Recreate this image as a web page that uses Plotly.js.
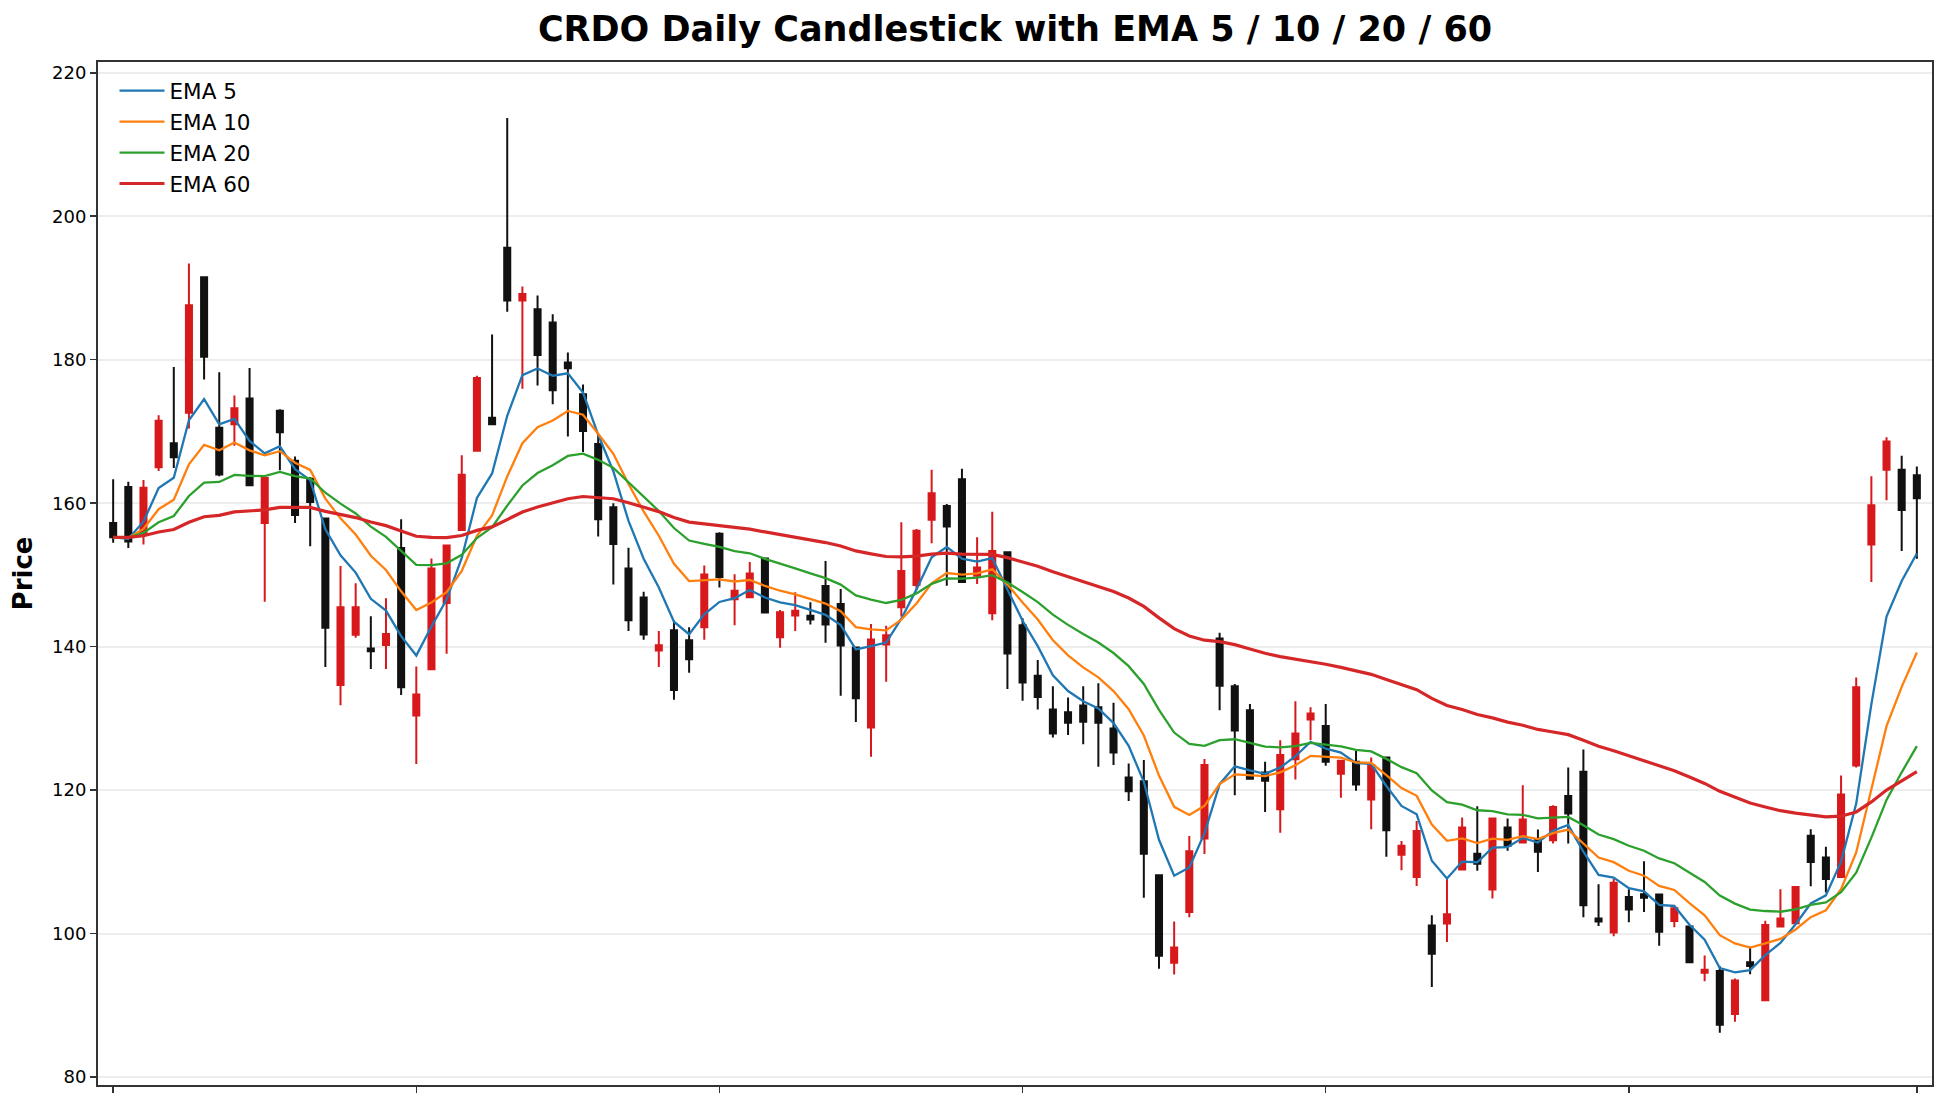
<!DOCTYPE html>
<html>
<head>
<meta charset="utf-8">
<script src="https://cdn.plot.ly/plotly-3.0.1.min.js"></script>
<style>
html,body{margin:0;padding:0;background:#fff;}
#chart{width:1945px;height:1106px;}
</style>
</head>
<body>
<div id="chart"></div>
<script>
// Daily bars, index 0..119 (x tick labels are blank in the reference)
const dayIndex = Array.from({length: 120}, (_, i) => i);

const openPrices = [
157.25,162.25,155.65,165.0,168.35,172.6,191.5,170.5,171.0,174.6,
157.25,172.9,165.9,163.4,157.85,134.65,141.65,139.75,140.25,153.75,
130.4,136.85,146.1,156.25,167.3,171.9,195.6,188.25,187.05,185.2,
179.6,175.2,168.25,159.45,150.9,146.85,139.45,142.3,140.9,142.7,
155.75,146.6,146.9,152.3,141.3,144.35,144.3,148.45,145.95,139.9,
128.75,140.3,145.5,148.6,157.7,159.6,163.35,149.9,144.65,153.15,
143.0,135.95,131.25,130.85,131.8,131.55,128.6,121.75,121.25,108.15,
95.95,103.0,113.25,141.15,134.5,131.15,122.45,117.35,124.3,129.85,
128.95,122.3,123.95,118.7,124.55,111.0,107.9,101.15,101.4,108.95,
111.15,106.15,114.8,112.7,113.1,113.0,119.2,122.55,102.1,100.15,
105.1,105.5,105.45,101.75,101.0,94.55,94.8,88.8,96.0,90.7,
101.0,101.45,113.65,110.6,107.9,123.45,154.25,164.65,164.65,163.9
];
const highPrices = [
163.35,163.0,163.25,172.25,179.0,193.4,191.6,178.25,175.0,178.85,
163.5,173.1,166.5,163.65,158.0,151.25,148.85,144.25,146.75,157.75,
137.25,152.3,154.1,166.7,177.75,183.5,213.7,190.2,188.95,186.35,
181.0,176.55,169.6,160.0,153.8,147.65,142.2,143.65,142.7,151.3,
155.95,150.1,151.8,152.3,145.1,147.6,146.2,151.95,148.05,139.9,
143.15,142.9,157.35,156.4,164.65,159.9,164.8,155.25,158.8,153.25,
143.95,138.15,134.5,132.9,134.5,134.9,132.2,123.7,124.2,108.15,
101.7,113.6,124.35,141.95,134.8,132.0,123.95,126.95,132.4,131.55,
132.0,124.1,125.5,124.55,124.55,112.9,115.7,102.55,107.6,116.2,
117.75,116.05,116.05,120.7,114.5,117.9,123.15,125.65,106.9,107.6,
106.2,110.1,105.45,103.9,101.0,96.95,95.45,93.75,98.2,101.8,
106.2,106.65,114.55,112.1,122.05,135.7,163.75,169.2,166.6,165.1
];
const lowPrices = [
154.5,153.75,154.25,164.5,164.9,170.4,177.25,163.75,168.0,162.35,
146.25,164.6,157.25,154.0,137.15,131.85,141.25,136.9,136.9,133.25,
123.65,136.85,139.0,156.25,167.3,171.0,186.7,175.95,176.4,173.8,
169.3,167.15,155.35,148.65,142.2,140.95,137.15,132.6,136.35,140.95,
148.25,143.0,146.9,144.65,139.85,142.2,143.1,140.55,133.15,129.5,
124.65,135.1,144.2,147.9,154.4,148.5,149.0,148.75,143.7,134.1,
132.45,131.25,127.35,127.7,126.4,123.25,123.5,118.5,105.0,95.1,
94.3,102.3,111.1,131.15,119.3,121.6,116.95,114.05,121.5,127.0,
123.4,118.95,119.9,114.55,110.7,108.85,106.65,92.55,98.85,108.95,
108.75,104.9,111.55,112.7,108.6,112.55,112.55,102.3,101.05,99.65,
101.6,103.0,98.3,100.9,95.9,93.35,86.2,87.7,94.35,90.7,
101.0,101.45,106.6,105.75,107.9,123.15,149.0,160.4,153.35,152.25
];
const closePrices = [
155.25,154.65,162.15,171.5,166.4,187.6,180.4,164.0,173.25,162.5,
163.5,169.9,158.35,160.15,142.65,145.5,145.5,139.35,141.75,134.35,
133.35,150.9,154.1,163.95,177.45,171.0,188.25,189.15,180.65,175.75,
178.8,170.05,157.75,154.3,143.7,141.7,140.2,133.95,138.25,150.05,
149.7,147.8,150.2,144.75,144.8,145.0,143.8,143.1,140.15,132.8,
141.0,141.6,150.55,156.15,161.4,156.75,149.0,151.05,153.35,139.05,
135.0,133.0,127.9,129.4,129.55,129.4,125.25,119.85,111.15,96.9,
98.05,111.5,123.5,134.55,128.3,121.6,121.3,124.9,127.9,130.7,
123.95,124.1,120.8,123.5,114.4,112.25,114.3,97.2,102.7,114.8,
109.75,116.05,112.25,115.9,111.4,117.65,116.75,103.95,101.7,107.1,
103.35,105.0,100.25,103.55,96.0,94.95,87.3,93.45,95.5,101.2,
102.1,106.5,110.0,107.6,119.4,134.35,159.7,168.6,159.05,160.7
];

const emaSpans = [5, 10, 20, 60];
const emaNames = ['EMA 5', 'EMA 10', 'EMA 20', 'EMA 60'];
const emaColors = ['#1f77b4', '#ff7f0e', '#2ca02c', '#d62728'];
const yTicks = [80, 100, 120, 140, 160, 180, 200, 220];
const xTicks = [0, 20, 40, 60, 80, 100, 119];

// Exponential moving average of the closes (pandas ewm, adjust=False)
function ema(values, span) {
  const a = 2 / (span + 1);
  const out = [];
  let prev = values[0];
  values.forEach((v, i) => {
    prev = i === 0 ? v : a * v + (1 - a) * prev;
    out.push(prev);
  });
  return out;
}

const FONT = 'DejaVu Sans, Liberation Sans, sans-serif';
const UP = '#d8191c', DOWN = '#111111';

const traces = [{
  type: 'candlestick',
  x: dayIndex, open: openPrices, high: highPrices, low: lowPrices, close: closePrices,
  increasing: {line: {color: UP, width: 2}, fillcolor: UP},
  decreasing: {line: {color: DOWN, width: 2}, fillcolor: DOWN},
  whiskerwidth: 0,
  showlegend: false,
  hoverinfo: 'x+y',
  name: 'CRDO'
}];
emaSpans.forEach((s, k) => {
  traces.push({
    type: 'scatter', mode: 'lines',
    x: dayIndex, y: ema(closePrices, s),
    name: emaNames[k],
    line: {color: emaColors[k], width: s === 60 ? 3.2 : 2.3}
  });
});

const layout = {
  width: 1945, height: 1106,
  paper_bgcolor: '#ffffff', plot_bgcolor: '#ffffff',
  margin: {l: 98, r: 13, t: 62, b: 21, pad: 0},
  font: {family: FONT, color: '#000000', size: 18},
  boxgap: 0.43,
  title: {
    text: 'CRDO Daily Candlestick with EMA 5 / 10 / 20 / 60',
    font: {family: FONT, size: 35, weight: 700, color: '#000'},
    x: 0.5, xref: 'paper', xanchor: 'center',
    y: 1 - 29 / 1106, yref: 'container', yanchor: 'middle'
  },
  showlegend: true,
  legend: {
    x: 0.009, y: 0.992, xanchor: 'left', yanchor: 'top',
    bgcolor: 'rgba(0,0,0,0)', borderwidth: 0,
    font: {family: FONT, size: 21.5, color: '#000'},
    itemwidth: 45
  },
  xaxis: {
    range: [-1, 120],
    tickvals: xTicks,
    showticklabels: false,
    ticks: 'outside', ticklen: 6, tickwidth: 1.5, tickcolor: '#333',
    showgrid: false, zeroline: false,
    showline: true, mirror: true, linecolor: '#333', linewidth: 2,
    rangeslider: {visible: false},
    fixedrange: true
  },
  yaxis: {
    range: [78.9, 221.5],
    tickvals: yTicks,
    ticktext: yTicks.map(String),
    ticks: 'outside', ticklen: 6, tickwidth: 1.5, tickcolor: '#333',
    tickfont: {family: FONT, size: 18, color: '#000'},
    showgrid: true, gridcolor: '#ededed', gridwidth: 2,
    zeroline: false,
    showline: true, mirror: true, linecolor: '#333', linewidth: 2,
    title: {text: 'Price', font: {family: FONT, size: 26, weight: 700, color: '#000'}, standoff: 12},
    fixedrange: true
  }
};

Plotly.newPlot('chart', traces, layout, {displayModeBar: false, staticPlot: true});
</script>
</body>
</html>
